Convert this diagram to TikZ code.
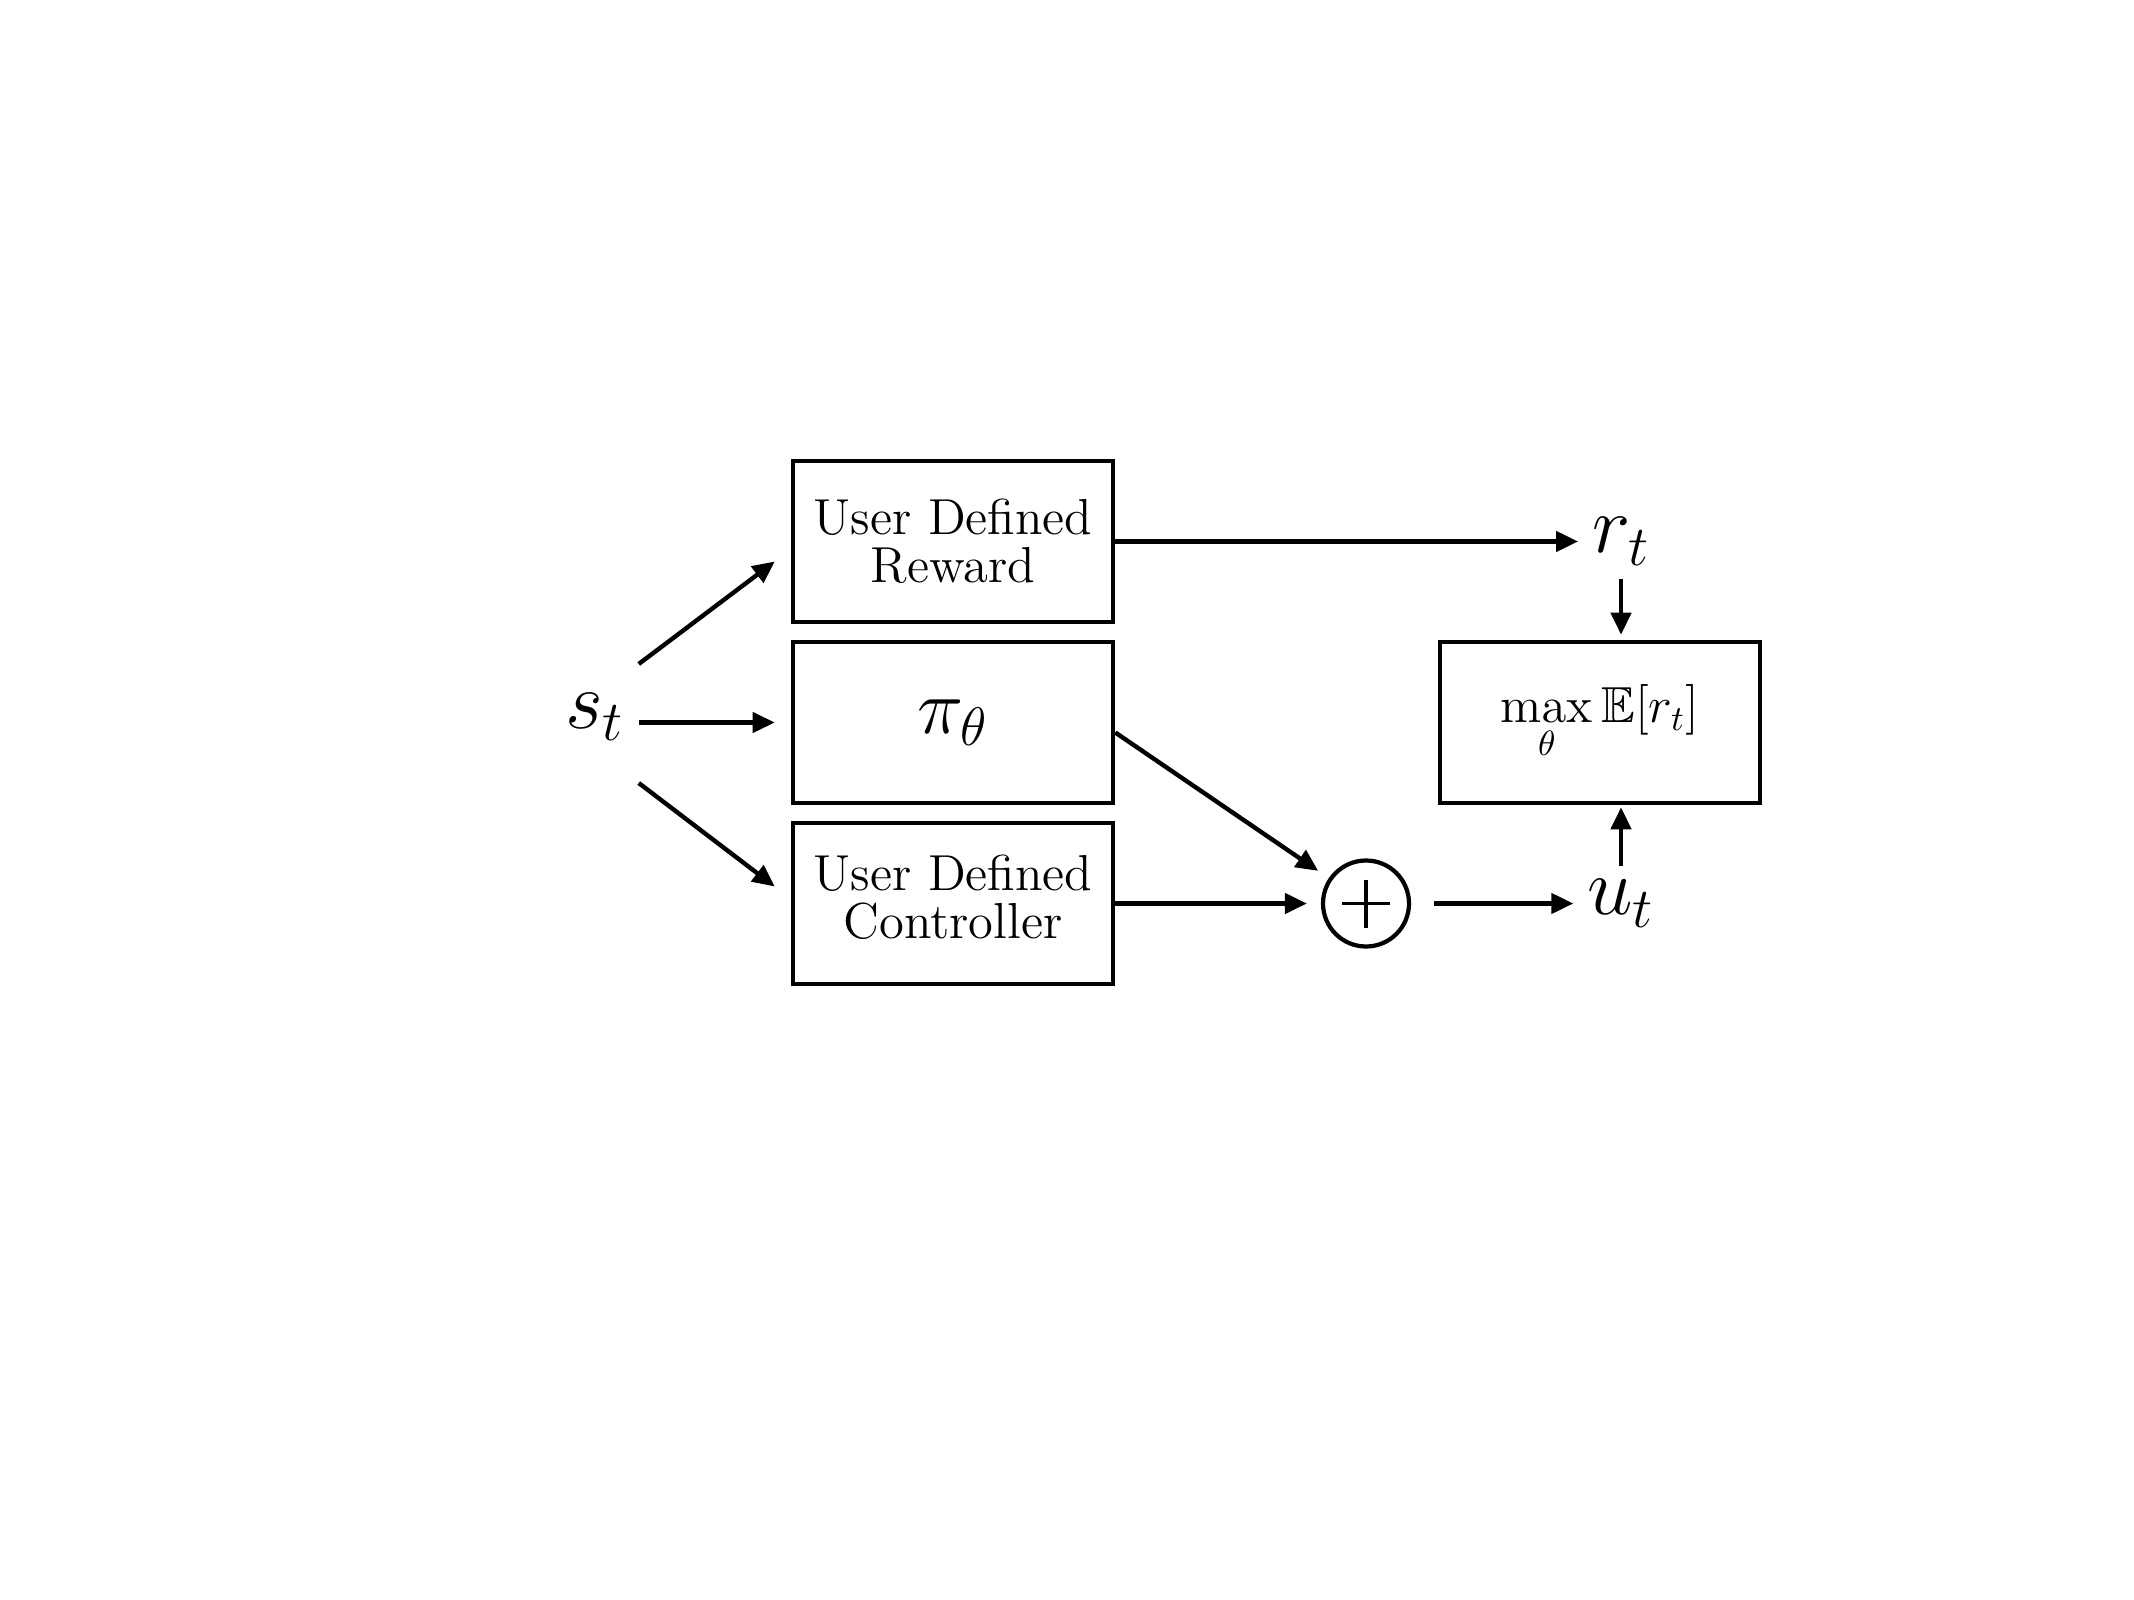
\documentclass[tikz,border=0pt]{standalone}
\usepackage{amsmath,amssymb}
\usetikzlibrary{arrows.meta,positioning}

\begin{document}
\begin{tikzpicture}[
    block/.style={
        draw=black,
        line width=1.3pt,
        minimum width=32mm,
        minimum height=16.1mm,
        align=center,
        font=\fontsize{14.4}{13.6}\selectfont
    },
    summer/.style={draw=black, circle, line width=1.2pt, minimum size=8.6mm,
                   inner sep=0pt},
    signal/.style={-{Triangle[length=2.2mm,width=2mm]},
                   draw=black, line width=1.25pt},
    var/.style={font=\huge, scale=1.12, transform shape}
]
    \useasboundingbox (0,0) rectangle (21.34,-16);

    % blocks
    \node[block] (reward) at (9.53,-5.415) {User Defined\\Reward};
    \node[block] (policy) at (9.53,-7.225) {\huge\scalebox{1.07}{$\pi_\theta$}};
    \node[block] (ctrl) at (9.53,-9.035) {User Defined\\Controller\\[-9.5pt]};
    \node[block, font=\Large] (objective) at (16.0,-7.225)
        {$\displaystyle\max_{\theta}\mathbb{E}[r_t]$};

    \node[summer] (sum) at (13.66,-9.035) {};
    \draw[line width=0.9pt] (sum.center) +(-0.24,0) -- +(0.24,0);
    \draw[line width=0.9pt] (sum.center) +(0,-0.24) -- +(0,0.24);

    % signals
    \node[var] (st) at (5.95,-7.17) {$s_t$};
    \node[var] (rt) at (16.21,-5.415) {$r_t$};
    \node[var] (ut) at (16.21,-9.035) {$u_t$};

    \draw[signal] ([yshift=5.3mm]st.east)
        -- ([xshift=-1.6mm,yshift=-2mm]reward.west);
    \draw[signal] (st.east |- policy.west) -- ([xshift=-1.6mm]policy.west);
    \draw[signal] ([yshift=-6.6mm]st.east)
        -- ([xshift=-1.6mm,yshift=1.7mm]ctrl.west);

    \draw[signal] (reward.east) -- (reward.east -| rt.west);
    \draw[signal, shorten >=5.8mm] ([yshift=-1mm]policy.east) -- (sum.center);
    \draw[signal, shorten >=1.4mm] (ctrl.east) -- (sum.west);
    \draw[signal, shorten <=2.3mm] (sum.east) -- (sum.east -| ut.west);

    \draw[signal, shorten >=0.5mm] (rt.south) -- (rt.south |- objective.north);
    \draw[signal, shorten >=0.2mm] (ut.north) -- (ut.north |- objective.south);
\end{tikzpicture}
\end{document}
